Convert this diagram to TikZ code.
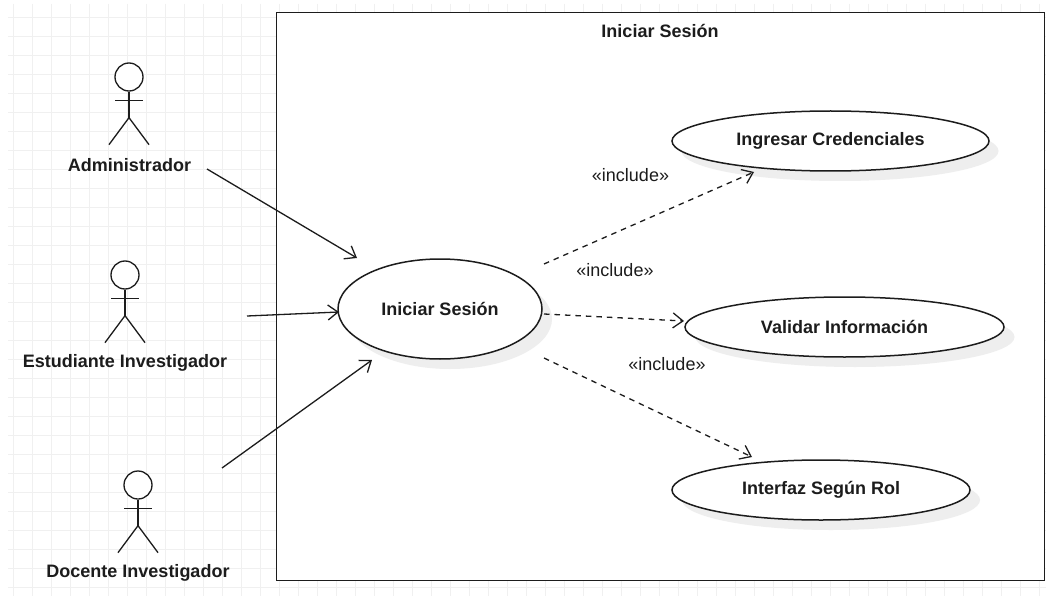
\documentclass[tikz,border=0pt]{standalone}
\usepackage{fontspec}
\setmainfont{Liberation Sans}
\usetikzlibrary{shapes.geometric,arrows.meta}
\definecolor{gridc}{RGB}{240,240,240}
\definecolor{shadowc}{RGB}{238,238,238}
\definecolor{inkc}{RGB}{28,28,28}
\tikzset{
  x=1pt,y=-1pt,
  every node/.style={font=\fontsize{18}{20}\selectfont,text=inkc},
  usecase/.style={ellipse,draw=inkc,line width=1.5pt,fill=white,inner sep=0pt,font=\fontsize{18}{20}\selectfont\bfseries},
  caseshadow/.style={ellipse,fill=shadowc,inner sep=0pt},
  actorlabel/.style={font=\fontsize{18}{20}\selectfont\bfseries},
  actorline/.style={draw=inkc,line width=1.3pt},
  assoc/.style={draw=inkc,line width=1.3pt,-{Straight Barb[length=10pt,width=15pt,line width=1.3pt]}},
  incl/.style={assoc,dash pattern=on 5.5pt off 5pt},
  inclabel/.style={font=\fontsize{18}{20}\selectfont},
  head/.style={circle,draw=inkc,line width=1.3pt,fill=white,minimum size=28pt,inner sep=0pt},
}
\newcommand{\actorfig}[3]{% name, x of centre, y of head centre
  \node[head] (#1) at (#2,#3) {};
  \draw[actorline] (#1.south) -- ++(0,26) coordinate (#1hip);
  \draw[actorline] ($(#1.south)+(-14,9)$) -- ++(28,0);
  \draw[actorline] (#1hip) -- ++(-20,27);
  \draw[actorline] (#1hip) -- ++(20,27);
}
\usetikzlibrary{calc}
\begin{document}
\begin{tikzpicture}
\useasboundingbox (0,0) rectangle (1051,596);
\fill[white] (0,0) rectangle (1051,596);
% grid
\foreach \i in {0,...,54} {\draw[gridc,line width=1pt] ({13.5+19*\i},4) -- ({13.5+19*\i},596);}
\foreach \j in {0,...,30} {\draw[gridc,line width=1pt] (8,{17.5+19*\j}) -- (1046,{17.5+19*\j});}
% system boundary
\node[draw=inkc,line width=1.4pt,fill=white,minimum width=768pt,minimum height=568pt,inner sep=0pt,anchor=north west] (sys) at (276,12) {};
\node[actorlabel] (systitle) at (660,31) {Iniciar Sesión};
% shadows
\node[caseshadow,minimum width=204pt,minimum height=100pt] at (450,319) {};
\node[caseshadow,minimum width=317pt,minimum height=60pt] at (840,151) {};
\node[caseshadow,minimum width=319pt,minimum height=60pt] at (855,337) {};
\node[caseshadow,minimum width=298pt,minimum height=60pt] at (831,500) {};
% use cases
\node[usecase,minimum width=204pt,minimum height=100pt] (main) at (440,309) {Iniciar Sesión};
\node[usecase,minimum width=317pt,minimum height=60pt] (ing) at (830.5,141) {Ingresar Credenciales};
\node[usecase,minimum width=319pt,minimum height=60pt] (val) at (844.5,327) {Validar Información};
\node[usecase,minimum width=298pt,minimum height=60pt] (intf) at (821,490) {Interfaz Según Rol};
% actors
\actorfig{adm}{129}{77}
\actorfig{est}{125}{275}
\actorfig{doc}{138}{485}
\node[actorlabel] (admlabel) at (129.5,165) {Administrador};
\node[actorlabel] (estlabel) at (125,363) {Estudiante Investigador};
\node[actorlabel] (doclabel) at (138,573) {Docente Investigador};
% connector ends
\coordinate (a1) at (207,169); \coordinate (a2) at (357,258);
\coordinate (e1) at (247,316); \coordinate (e2) at (339,312);
\coordinate (d1) at (222,468); \coordinate (d2) at (372,360);
\coordinate (i1) at (544,264); \coordinate (i2) at (754,172);
\coordinate (v1) at (544,314); \coordinate (v2) at (684,321);
\coordinate (r1) at (544,358); \coordinate (r2) at (752,457);
\draw[assoc] (a1) -- (a2);
\draw[assoc] (e1) -- (e2);
\draw[assoc] (d1) -- (d2);
\draw[incl] (i1) -- (i2);
\draw[incl] (v1) -- (v2);
\draw[incl] (r1) -- (r2);
\node[inclabel] (l1) at (630.5,175) {«include»};
\node[inclabel] (l2) at (615,270) {«include»};
\node[inclabel] (l3) at (667,364) {«include»};
\end{tikzpicture}
\end{document}
